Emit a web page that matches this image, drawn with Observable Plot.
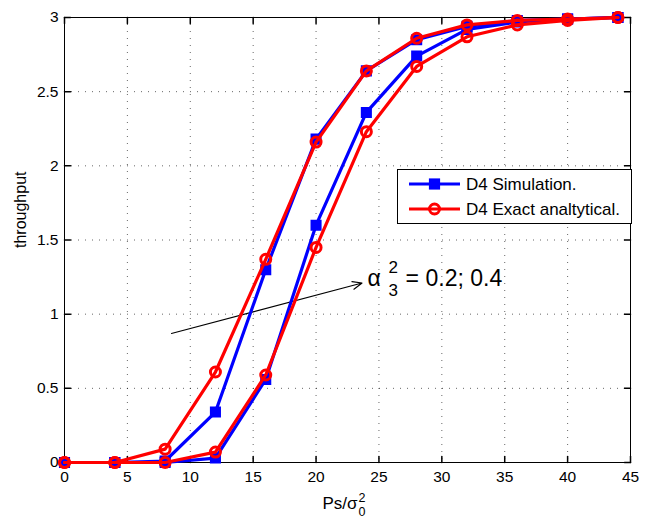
<!DOCTYPE html>
<html><head><meta charset="utf-8">
<script src="https://cdn.jsdelivr.net/npm/d3@7"></script>
<script src="https://cdn.jsdelivr.net/npm/@observablehq/plot@0.6"></script>
<style>
body{margin:0;background:#fff;font-family:"Liberation Sans",Arial,sans-serif;}
#wrap{position:relative;width:650px;height:518px;overflow:hidden;}
</style></head><body><div id="wrap"></div>
<script>
// x values (Ps/σ0²)
const snr = [0, 4, 8, 12, 16, 20, 24, 28, 32, 36, 40, 44];
// α3² = 0.2
const simA = [0, 0, 0.01, 0.34, 1.30, 2.18, 2.64, 2.85, 2.94, 2.98, 2.99, 3.0];
const anaA = [0, 0, 0.09, 0.61, 1.37, 2.16, 2.64, 2.86, 2.95, 2.98, 2.99, 3.0];
// α3² = 0.4
const simB = [0, 0, 0, 0.03, 0.56, 1.60, 2.36, 2.74, 2.92, 2.97, 2.99, 3.0];
const anaB = [0, 0, 0, 0.07, 0.59, 1.45, 2.23, 2.67, 2.87, 2.95, 2.98, 3.0];

const xTicks = [0, 5, 10, 15, 20, 25, 30, 35, 40, 45];
const yTicks = [0, 0.5, 1, 1.5, 2, 2.5, 3];
const seriesNames = ["D4 Simulation.", "D4 Exact analtytical."];
const seriesColors = ["#0000ff", "#ff0000"];
const xLabel = ["Ps/σ", "0", "2"];
const yLabel = "throughput";
// annotation: arrow (data coords) and label
const arrowFrom = [8.5, 0.87];
const arrowTo = [23.66, 1.21];
const annotAt = [24.1, 1.24];
const annotParts = ["α", "2", "3", "= 0.2; 0.4"];

const mk = (ys, s, g) => ys.map((y, i) => ({x: snr[i], y, series: s, group: g}));
const simRows = [...mk(simA, seriesNames[0], "A"), ...mk(simB, seriesNames[0], "B")];
const anaRows = [...mk(anaA, seriesNames[1], "A"), ...mk(anaB, seriesNames[1], "B")];

const tickShape = {draw(ctx, l) { ctx.moveTo(0, 0); ctx.lineTo(0, -l); }};
const grid = {stroke: "#000", strokeOpacity: 0.6, strokeDasharray: "1,6"};
const annot = [{x: annotAt[0], y: annotAt[1]}];

const chart = Plot.plot({
  width: 650, height: 518,
  marginLeft: 64, marginRight: 20, marginTop: 17, marginBottom: 56,
  x: {domain: [0, 45]},
  y: {domain: [0, 3]},
  style: {fontFamily: "'Liberation Sans', Arial, sans-serif", background: "white", color: "#000"},
  marks: [
    Plot.gridX(xTicks, grid),
    Plot.gridY(yTicks, grid),
    Plot.frame({stroke: "#000", strokeWidth: 1}),
    Plot.vector(xTicks, {x: d => d, frameAnchor: "bottom", length: 6, rotate: 0, anchor: "start", shape: tickShape, stroke: "#000"}),
    Plot.vector(xTicks, {x: d => d, frameAnchor: "top", length: 6, rotate: 180, anchor: "start", shape: tickShape, stroke: "#000"}),
    Plot.vector(yTicks, {y: d => d, frameAnchor: "left", length: 6, rotate: 90, anchor: "start", shape: tickShape, stroke: "#000"}),
    Plot.vector(yTicks, {y: d => d, frameAnchor: "right", length: 6, rotate: -90, anchor: "start", shape: tickShape, stroke: "#000"}),
    Plot.axisX(xTicks, {tickSize: 0, tickPadding: 8, fontSize: 15.5, label: null}),
    Plot.axisY(yTicks, {tickSize: 0, tickPadding: 6, fontSize: 15.5, label: null, tickFormat: d => String(d)}),
    Plot.text([yLabel], {frameAnchor: "left", text: d => d, rotate: -90, dx: -44, dy: 8, fontSize: 16}),
    Plot.text([xLabel[0]], {frameAnchor: "bottom", text: d => d, textAnchor: "end", lineAnchor: "bottom", dx: 10, dy: 46, fontSize: 17}),
    Plot.text([xLabel[2]], {frameAnchor: "bottom", text: d => d, textAnchor: "start", lineAnchor: "bottom", dx: 11, dy: 39, fontSize: 12.5}),
    Plot.text([xLabel[1]], {frameAnchor: "bottom", text: d => d, textAnchor: "start", lineAnchor: "bottom", dx: 11, dy: 53, fontSize: 12.5}),
    Plot.arrow([0], {x1: () => arrowFrom[0], y1: () => arrowFrom[1], x2: () => arrowTo[0], y2: () => arrowTo[1], stroke: "#000", strokeWidth: 1.1, headLength: 14, headAngle: 45}),
    Plot.text(annot, {x: "x", y: "y", text: () => annotParts[0], textAnchor: "start", fontSize: 23}),
    Plot.text(annot, {x: "x", y: "y", text: () => annotParts[1], textAnchor: "start", dx: 21, dy: -11.5, fontSize: 17}),
    Plot.text(annot, {x: "x", y: "y", text: () => annotParts[2], textAnchor: "start", dx: 21, dy: 11.5, fontSize: 17}),
    Plot.text(annot, {x: "x", y: "y", text: () => annotParts[3], textAnchor: "start", dx: 38, fontSize: 23}),
    Plot.line(simRows, {x: "x", y: "y", z: "group", stroke: seriesColors[0], strokeWidth: 3.2}),
    Plot.dot(simRows, {x: "x", y: "y", symbol: "square", r: 5, fill: seriesColors[0], stroke: seriesColors[0], strokeWidth: 2.2}),
    Plot.line(anaRows, {x: "x", y: "y", z: "group", stroke: seriesColors[1], strokeWidth: 3.2}),
    Plot.dot(anaRows, {x: "x", y: "y", r: 5, fill: "none", stroke: seriesColors[1], strokeWidth: 3})
  ]
});
const wrap = document.getElementById("wrap");
wrap.appendChild(chart);

// legend
const lg = d3.create("svg").attr("width", 236).attr("height", 56)
  .style("position", "absolute").style("left", "397px").style("top", "169px");
lg.append("rect").attr("x", 0.5).attr("y", 0.5).attr("width", 234).attr("height", 54)
  .attr("fill", "#fff").attr("stroke", "#000");
seriesNames.forEach((name, i) => {
  const cy = 15 + i * 25;
  const c = seriesColors[i];
  lg.append("line").attr("x1", 12).attr("x2", 63).attr("y1", cy).attr("y2", cy)
    .attr("stroke", c).attr("stroke-width", 3.2);
  if (i === 0) {
    lg.append("rect").attr("x", 33).attr("y", cy - 4.5).attr("width", 9).attr("height", 9)
      .attr("fill", c).attr("stroke", c).attr("stroke-width", 2.2);
  } else {
    lg.append("circle").attr("cx", 37.5).attr("cy", cy).attr("r", 5)
      .attr("fill", "none").attr("stroke", c).attr("stroke-width", 3);
  }
  lg.append("text").attr("x", 69).attr("y", cy + 6).attr("font-size", 17)
    .attr("font-family", "'Liberation Sans', Arial, sans-serif").text(name);
});
wrap.appendChild(lg.node());
</script>
</body></html>
